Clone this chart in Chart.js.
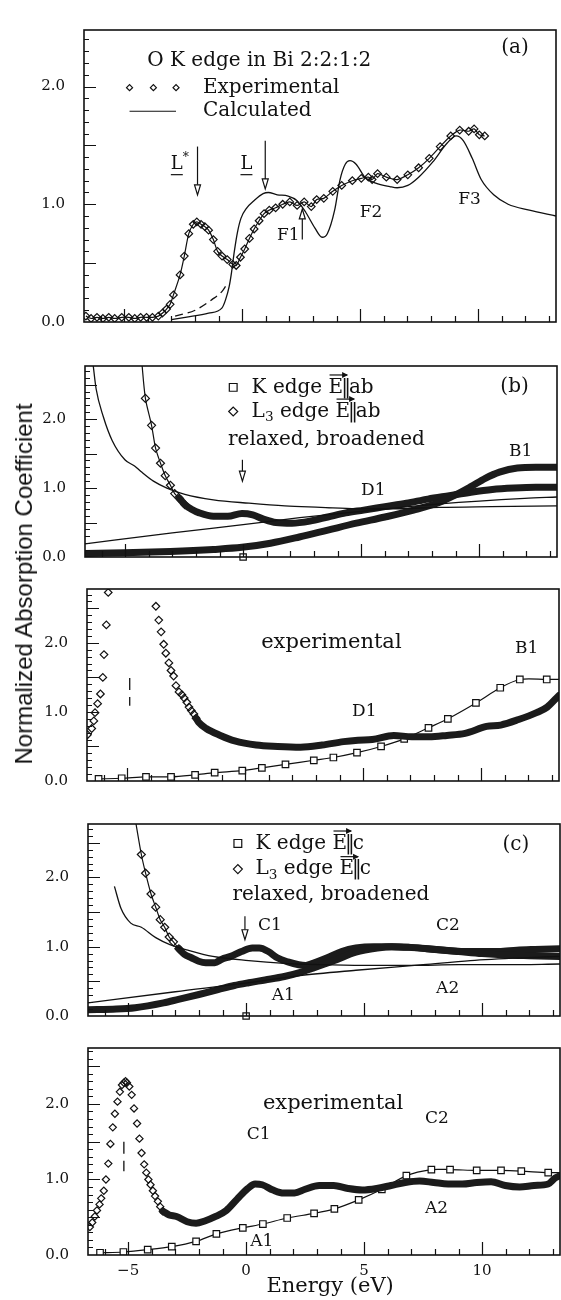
<!DOCTYPE html>
<html>
<head>
<meta charset="utf-8">
<title>O K edge in Bi 2:2:1:2</title>
<script src="https://cdn.jsdelivr.net/npm/chart.js@4.4.1/dist/chart.umd.min.js"></script>
<style>
  html, body { margin: 0; padding: 0; background: #fff; }
  body { position: relative; width: 561px; height: 1300px; overflow: hidden; }
  canvas { position: absolute; left: 0; }
  #ytitle { position: absolute; left: 24px; top: 584px; transform: translate(-50%, -50%) rotate(-90deg);
            font: 24px "Liberation Sans", Arial, sans-serif; color: #111; white-space: nowrap; }
</style>
</head>
<body>
<canvas id="pa"></canvas>
<canvas id="pb"></canvas>
<canvas id="pbx"></canvas>
<canvas id="pc"></canvas>
<canvas id="pcx"></canvas>
<div id="ytitle">Normalized Absorption Coefficient</div>
<script>
// energy axis (eV), same for every panel
const eMin = -6.7, eMax = 13.3;
const xTickValues = [-5, 0, 5, 10];
const xTickLabels = ['\u22125', '0', '5', '10'];
const yTickValues = [0, 1, 2];
const yTickLabels = ['0.0', '1.0', '2.0'];

// (a) O K edge, experiment and calculation
const aExpE = [-6.62,-6.4,-6.15,-5.9,-5.65,-5.4,-5.1,-4.8,-4.55,-4.3,-4.05,-3.8,-3.55,-3.38,-3.2,-3.05,-2.91,-2.63,-2.45,-2.26,
  -2.07,-1.92,-1.74,-1.58,-1.42,-1.22,-1.04,-0.85,-0.63,-0.40,-0.25,-0.07,0.11,0.31,0.51,0.72,0.93,1.15,1.42,1.72,
  2.02,2.33,2.63,2.93,3.16,3.46,3.84,4.22,4.67,5.05,5.35,5.51,5.74,6.11,6.57,7.02,7.48,7.93,8.39,8.84,9.22,9.60,9.83,10.05,10.28];
const aExpY = [0.05,0.03,0.04,0.03,0.04,0.03,0.04,0.04,0.03,0.04,0.04,0.04,0.05,0.075,0.11,0.15,0.23,0.40,0.56,0.75,
  0.83,0.85,0.83,0.81,0.78,0.70,0.60,0.56,0.53,0.49,0.48,0.55,0.62,0.71,0.79,0.86,0.92,0.95,0.97,1.00,
  1.02,0.99,1.02,0.98,1.04,1.05,1.11,1.16,1.20,1.22,1.23,1.21,1.26,1.23,1.21,1.25,1.31,1.39,1.49,1.58,1.63,1.62,1.64,1.59,1.58];
const aCalcE = [-3.0,-2.41,-1.42,-0.85,-0.7,-0.55,-0.45,-0.33,-0.2,-0.05,0.2,0.5,0.89,1.11,1.49,1.95,2.33,2.70,3.08,3.39,
  3.61,3.92,4.15,4.37,4.57,4.83,5.20,5.66,6.26,6.57,7.02,7.48,8.08,8.69,9.07,9.37,9.75,10.13,10.66,11.27,12.17,13.3];
const aCalcY = [0.02,0.04,0.075,0.12,0.19,0.30,0.42,0.60,0.76,0.88,0.97,1.03,1.09,1.10,1.08,1.07,1.03,0.93,0.80,0.72,
  0.75,0.95,1.21,1.34,1.37,1.34,1.23,1.18,1.15,1.14,1.16,1.23,1.36,1.52,1.58,1.54,1.39,1.21,1.08,1.00,0.95,0.90];
const aDashE = [-2.84,-1.99,-1.28,-0.85,-0.68];
const aDashY = [0.05,0.10,0.19,0.26,0.31];

// (b) relaxed, broadened, E || ab
const bKE = [-6.7,-5.04,-3.08,-1.26,-0.05,1.16,2.38,3.59,4.80,6.01,7.22,8.3,9.0,9.65,10.26,10.86,11.62,12.4,13.3];
const bKY = [0.05,0.06,0.08,0.11,0.14,0.20,0.29,0.39,0.49,0.58,0.68,0.79,0.90,1.02,1.14,1.23,1.29,1.30,1.30];
const bL3SteepE = [-4.3,-4.14,-3.88,-3.71,-3.50,-3.30,-3.08,-2.90,-2.70,-2.47];
const bL3SteepY = [2.85,2.30,1.91,1.58,1.36,1.18,1.04,0.92,0.85,0.76];
const bL3BandE = [-2.70,-2.47,-2.17,-1.86,-1.26,-0.65,-0.05,0.41,0.86,1.39,2.07,2.83,3.59,4.35,5.11,6.01,6.92,7.83,8.74,9.65,10.56,11.47,12.4,13.3];
const bL3BandY = [0.85,0.76,0.69,0.64,0.59,0.59,0.63,0.61,0.55,0.50,0.49,0.52,0.58,0.64,0.68,0.73,0.78,0.84,0.89,0.94,0.98,1.00,1.01,1.01];
const bDecayE = [-6.35,-6.23,-5.92,-5.55,-5.01,-4.6,-4.33,-3.8,-3.23,-2.47,-1.26,0.25,1.77,3.29,4.80,6.5,8.3,10.5,13.3];
const bDecayY = [2.77,2.44,2.03,1.69,1.41,1.32,1.24,1.10,1.00,0.91,0.83,0.78,0.74,0.72,0.70,0.70,0.72,0.73,0.74];
const bLinE = [-6.7,-3,0,2.4,4.96,8.34,11.93,13.3];
const bLinY = [0.19,0.35,0.47,0.57,0.66,0.77,0.85,0.87];
const bLoneE = [0];
const bLoneY = [0];

// (b) experimental
const bxL3E = [-6.68,-6.5,-6.41,-6.36,-6.25,-6.13,-6.03,-5.98,-5.88,-5.80,-3.78,-3.66,-3.56,-3.45,-3.36,-3.23,-3.14,-3.03,
  -2.93,-2.80,-2.68,-2.58,-2.47,-2.38,-2.28,-2.17,-2.08];
const bxL3Y = [0.67,0.76,0.87,0.99,1.12,1.26,1.50,1.83,2.26,2.73,2.53,2.33,2.16,1.98,1.85,1.71,1.60,1.52,
  1.38,1.29,1.25,1.20,1.14,1.07,1.02,0.97,0.91];
const bxL3BandE = [-2.08,-1.97,-1.65,-1.05,-0.44,0.47,1.38,2.35,3.26,4.17,4.78,5.39,6.30,7.06,7.80,8.55,9.32,10.23,10.83,11.59,12.35,12.80,13.3];
const bxL3BandY = [0.91,0.85,0.76,0.66,0.58,0.52,0.50,0.49,0.52,0.57,0.59,0.60,0.66,0.64,0.64,0.66,0.69,0.79,0.81,0.89,0.99,1.07,1.24];
const bxKE = [-6.21,-5.23,-4.20,-3.14,-2.12,-1.29,-0.12,0.71,1.71,2.91,3.74,4.74,5.76,6.74,7.77,8.59,9.78,10.81,11.64,12.78,13.4];
const bxKY = [0.03,0.04,0.06,0.06,0.09,0.12,0.15,0.19,0.24,0.30,0.34,0.41,0.50,0.61,0.77,0.90,1.13,1.35,1.47,1.47,1.47];
const bxMarkE = [-4.89,-4.89];
const bxMarkY = [1.49,1.09];

// (c) relaxed, broadened, E || c
const cL3SteepE = [-4.67,-4.44,-4.26,-4.03,-3.83,-3.64,-3.45,-3.26,-3.08,-2.85];
const cL3SteepY = [2.78,2.33,2.06,1.76,1.57,1.39,1.28,1.14,1.07,0.97];
const cL3BandE = [-2.85,-2.62,-2.32,-2.01,-1.71,-1.33,-1.03,-0.65,-0.20,0.26,0.56,0.94,1.32,1.77,2.23,2.53,2.83,3.44,4.05,4.65,
  5.41,6.17,6.92,7.68,8.44,9.20,9.95,10.71,11.47,12.23,13.3];
const cL3BandY = [0.97,0.89,0.84,0.79,0.77,0.77,0.82,0.86,0.93,0.98,0.98,0.93,0.84,0.78,0.74,0.73,0.76,0.84,0.93,0.98,
  1.00,1.00,0.99,0.97,0.95,0.93,0.93,0.93,0.95,0.96,0.97];
const cKE = [-6.7,-5.5,-4.7,-3.5,-2.87,-2.0,-1.19,-0.5,0.11,0.8,1.62,2.3,2.83,3.74,4.65,5.56,6.17,7.0,8.0,9.0,10.0,11.0,12.0,13.3];
const cKY = [0.09,0.10,0.12,0.19,0.24,0.31,0.38,0.44,0.48,0.52,0.57,0.63,0.69,0.80,0.92,0.98,1.00,0.99,0.96,0.93,0.90,0.88,0.87,0.86];
const cDecayE = [-5.58,-5.3,-4.89,-4.44,-3.83,-3.23,-2.47,-1.41,0.11,1.62,3.14,5.0,7.0,9.0,11.0,13.3];
const cDecayY = [1.87,1.55,1.34,1.28,1.13,1.03,0.95,0.86,0.80,0.76,0.74,0.73,0.73,0.74,0.74,0.75];
const cLinE = [-6.7,-3,0.14,2.2,4.65,7.5,9.5,11.7,13.3];
const cLinY = [0.19,0.35,0.48,0.58,0.66,0.74,0.80,0.84,0.86];
const cLoneE = [0];
const cLoneY = [0];

// (c) experimental
const cxL3E = [-6.62,-6.52,-6.41,-6.32,-6.21,-6.14,-6.03,-5.94,-5.84,-5.75,-5.65,-5.56,-5.45,-5.35,-5.26,-5.18,-5.11,-5.05,
  -4.95,-4.85,-4.75,-4.62,-4.52,-4.43,-4.32,-4.23,-4.14,-4.05,-3.95,-3.86,-3.74,-3.64,-3.53];
const cxL3Y = [0.37,0.43,0.51,0.59,0.67,0.75,0.85,1.00,1.21,1.47,1.69,1.87,2.03,2.16,2.25,2.28,2.30,2.28,
  2.23,2.12,1.94,1.74,1.54,1.35,1.20,1.09,1.00,0.93,0.85,0.78,0.71,0.64,0.58];
const cxL3BandE = [-3.53,-3.26,-2.95,-2.50,-2.12,-1.75,-1.29,-0.84,-0.38,0.07,0.38,0.68,1.14,1.59,2.05,2.50,3.10,3.71,4.32,4.92,
  5.53,6.14,6.74,7.35,7.95,8.56,9.16,9.77,10.38,10.98,11.59,12.20,12.80,13.10,13.3];
const cxL3BandY = [0.58,0.53,0.51,0.44,0.42,0.45,0.51,0.59,0.74,0.88,0.94,0.93,0.86,0.82,0.82,0.87,0.92,0.92,0.88,0.86,
  0.88,0.92,0.96,0.98,0.96,0.94,0.94,0.96,0.97,0.92,0.90,0.92,0.94,1.02,1.05];
const cxKE = [-6.19,-5.2,-4.17,-3.15,-2.12,-1.26,-0.14,0.71,1.74,2.88,3.74,4.77,5.75,6.79,7.85,8.64,9.77,10.80,11.66,12.80,13.4];
const cxKY = [0.03,0.04,0.07,0.11,0.18,0.28,0.36,0.41,0.49,0.55,0.61,0.73,0.87,1.05,1.13,1.13,1.12,1.12,1.11,1.09,1.09];
const cxMarkE = [-5.18,-5.18];
const cxMarkY = [1.50,1.11];

const SERIF = '"DejaVu Serif", "Liberation Serif", serif';
const INK = '#111';
const pts = (xs, ys) => xs.map((x, i) => ({x: x, y: ys[i]}));

// markers that sit past the frame are not drawn
function inside(ctx) {
  if (!ctx.raw) return true;
  return ctx.raw.x < eMax - 0.05 && ctx.raw.y < ctx.chart.scales.y.max - 0.03;
}

function thin(xs, ys, dash) {
  return {data: pts(xs, ys), showLine: true, borderColor: INK, borderWidth: 1.3, borderDash: dash || [],
    pointRadius: 0, tension: 0.4, cubicInterpolationMode: 'monotone', clip: 0};
}
// densely packed open markers print as a dark, speckled band
function band(xs, ys, w) {
  return [
    {data: pts(xs, ys), showLine: true, borderColor: '#1b1b1b', borderWidth: w || 7,
      borderJoinStyle: 'round', borderCapStyle: 'round',
      pointRadius: 0, tension: 0.4, cubicInterpolationMode: 'monotone', clip: 0},
    {data: pts(xs, ys), showLine: true, borderColor: 'rgba(255,255,255,0.75)', borderWidth: 1.5,
      borderDash: [1.5, 3.5], pointRadius: 0, tension: 0.4, cubicInterpolationMode: 'monotone', clip: 0}
  ];
}
function marks(xs, ys, style, r, line, fill) {
  return {data: pts(xs, ys), showLine: !!line, borderColor: INK, borderWidth: 1.2, tension: 0.3,
    pointStyle: style, pointRadius: c => inside(c) ? r : 0, pointBorderWidth: 1.2,
    pointBorderColor: INK, pointBackgroundColor: fill || 'rgba(255,255,255,0)', clip: 0};
}

function drawArrow(ctx, px, y1, tip) {
  const dir = Math.sign(tip - y1), hl = 10, hw = 3;
  ctx.beginPath();
  ctx.moveTo(px, y1); ctx.lineTo(px, tip - dir * hl);
  ctx.stroke();
  ctx.beginPath();
  ctx.moveTo(px - hw, tip - dir * hl); ctx.lineTo(px + hw, tip - dir * hl); ctx.lineTo(px, tip);
  ctx.closePath();
  ctx.fillStyle = '#fff'; ctx.fill(); ctx.stroke();
  ctx.fillStyle = INK;
}

function drawRuns(ctx, px, py, runs, size) {
  let cx = px;
  ctx.textAlign = 'left';
  runs.forEach(r => {
    if (r.bars) {
      ctx.font = size + 'px ' + SERIF;
      const w = ctx.measureText('|').width;
      ctx.fillText('|', cx - w * 0.3, py);
      ctx.fillText('|', cx + w * 0.15, py);
      cx += w * 0.85;
      return;
    }
    const fs = (r.sub || r.sup) ? size * 0.68 : size;
    ctx.font = fs + 'px ' + SERIF;
    const dy = r.sub ? size * 0.3 : r.sup ? -size * 0.36 : 0;
    ctx.fillText(r.s, cx, py + dy);
    const w = ctx.measureText(r.s).width;
    if (r.u) {
      ctx.beginPath(); ctx.moveTo(cx, py + size * 0.58); ctx.lineTo(cx + w, py + size * 0.58); ctx.stroke();
    }
    if (r.vec) {
      const ay = py - size * 0.62, x2 = cx + w + 4;
      ctx.beginPath(); ctx.moveTo(cx + 1, ay); ctx.lineTo(x2, ay); ctx.stroke();
      ctx.beginPath(); ctx.moveTo(x2 + 1, ay); ctx.lineTo(x2 - 5, ay - 3); ctx.lineTo(x2 - 5, ay + 3);
      ctx.closePath(); ctx.fill();
    }
    cx += w;
  });
}

function drawNote(ctx, x, y, n) {
  const px = x.getPixelForValue(n.x), py = y.getPixelForValue(n.y);
  ctx.fillStyle = INK; ctx.strokeStyle = INK; ctx.lineWidth = 1.2;
  ctx.textBaseline = 'middle'; ctx.textAlign = n.align || 'left';
  if (n.t === 'text') {
    ctx.font = n.size + 'px ' + SERIF;
    ctx.fillText(n.s, px, py);
  } else if (n.t === 'rich') {
    drawRuns(ctx, px, py, n.runs, n.size);
  } else if (n.t === 'arrow') {
    drawArrow(ctx, px, py, y.getPixelForValue(n.tip));
  } else if (n.t === 'seg') {
    ctx.beginPath(); ctx.moveTo(px, py); ctx.lineTo(x.getPixelForValue(n.x2), py); ctx.stroke();
  } else if (n.t === 'mark') {
    ctx.fillStyle = '#fff';
    Chart.helpers.drawPoint(ctx, {pointStyle: n.style, radius: n.r, borderWidth: 1.2, rotation: 0}, px, py);
  }
}

function decorate(chart, yMax, notes) {
  const {ctx, chartArea: a, scales: {x, y}} = chart;
  ctx.save();
  ctx.strokeStyle = INK; ctx.fillStyle = INK;
  ctx.lineWidth = 1.6;
  ctx.strokeRect(a.left, a.top, a.right - a.left, a.bottom - a.top);
  ctx.lineWidth = 1.2;
  ctx.beginPath();
  for (let e = Math.ceil(eMin); e <= Math.floor(eMax); e++) {
    const px = Math.round(x.getPixelForValue(e)) + 0.5;
    const len = e % 5 === 0 ? 13 : 6;
    ctx.moveTo(px, a.bottom); ctx.lineTo(px, a.bottom - len);
  }
  for (let k = 1; k / 10 < yMax - 0.02; k++) {
    const py = Math.round(y.getPixelForValue(k / 10)) + 0.5;
    const len = k % 5 === 0 ? 12 : 5;
    ctx.moveTo(a.left, py); ctx.lineTo(a.left + len, py);
  }
  ctx.stroke();
  notes.forEach(n => drawNote(ctx, x, y, n));
  ctx.restore();
}

function panel(id, box, yMax, datasets, notes, bottom) {
  const padT = 12, padB = bottom ? 46 : 12;
  const cv = document.getElementById(id);
  cv.width = 561;
  cv.height = box.b - box.t + padT + padB;
  cv.style.top = (box.t - padT) + 'px';
  return new Chart(cv, {
    type: 'scatter',
    data: {datasets: datasets.flat()},
    options: {
      responsive: false, animation: false, devicePixelRatio: 1, events: [],
      layout: {padding: {top: padT, right: 561 - box.r, left: 0, bottom: 0}},
      plugins: {legend: {display: false}, tooltip: {enabled: false}},
      scales: {
        x: {
          type: 'linear', min: eMin, max: eMax,
          grid: {display: false, drawTicks: false}, border: {display: false},
          afterBuildTicks: s => { s.ticks = xTickValues.map(v => ({value: v})); },
          afterFit: s => { s.height = padB; },
          ticks: {display: !!bottom, autoSkip: false, maxRotation: 0, padding: 7,
                  color: INK, font: {family: SERIF, size: 15},
                  callback: v => xTickLabels[xTickValues.indexOf(v)]}
        },
        y: {
          min: 0, max: yMax,
          grid: {display: false, drawTicks: false}, border: {display: false},
          afterBuildTicks: s => { s.ticks = yTickValues.map(v => ({value: v})); },
          afterFit: s => { s.width = box.l; },
          ticks: {autoSkip: false, padding: 19, color: INK, font: {family: SERIF, size: 15},
                  callback: v => yTickLabels[yTickValues.indexOf(v)]}
        }
      }
    },
    plugins: [{id: 'frame', afterDatasetsDraw: c => decorate(c, yMax, notes)}]
  });
}

const vecRuns = (pre, post) => pre.concat([{s: 'E', vec: true}, {bars: true}, {s: post}]);

const aNotes = [
  {t: 'text', x: -4.02, y: 2.22, s: 'O K edge in Bi 2:2:1:2', size: 20},
  {t: 'mark', x: -4.77, y: 1.99, style: 'rectRot', r: 3},
  {t: 'mark', x: -3.76, y: 1.99, style: 'rectRot', r: 3},
  {t: 'mark', x: -2.80, y: 1.99, style: 'rectRot', r: 3},
  {t: 'text', x: -1.66, y: 1.99, s: 'Experimental', size: 20},
  {t: 'seg', x: -4.77, x2: -2.80, y: 1.79},
  {t: 'text', x: -1.66, y: 1.79, s: 'Calculated', size: 20},
  {t: 'text', x: 10.98, y: 2.33, s: '(a)', size: 20},
  {t: 'rich', x: -3.02, y: 1.34, size: 18, runs: [{s: 'L', u: true}, {s: '*', sup: true}]},
  {t: 'arrow', x: -1.89, y: 1.49, tip: 1.08},
  {t: 'rich', x: -0.07, y: 1.34, size: 18, runs: [{s: 'L', u: true}]},
  {t: 'arrow', x: 0.98, y: 1.54, tip: 1.13},
  {t: 'text', x: 1.48, y: 0.73, s: 'F1', size: 17},
  {t: 'arrow', x: 2.55, y: 0.70, tip: 0.96},
  {t: 'text', x: 4.98, y: 0.93, s: 'F2', size: 17},
  {t: 'text', x: 9.16, y: 1.04, s: 'F3', size: 17}
];
const bNotes = [
  {t: 'mark', x: -0.42, y: 2.46, style: 'rect', r: 5.5},
  {t: 'rich', x: 0.36, y: 2.46, size: 20, runs: vecRuns([{s: 'K edge '}], 'ab')},
  {t: 'mark', x: -0.42, y: 2.11, style: 'rectRot', r: 4.5},
  {t: 'rich', x: 0.36, y: 2.11, size: 20, runs: vecRuns([{s: 'L'}, {s: '3', sub: true}, {s: ' edge '}], 'ab')},
  {t: 'text', x: -0.64, y: 1.70, s: 'relaxed, broadened', size: 20},
  {t: 'text', x: 10.9, y: 2.47, s: '(b)', size: 20},
  {t: 'text', x: 11.27, y: 1.53, s: 'B1', size: 17},
  {t: 'text', x: 5.0, y: 0.97, s: 'D1', size: 17},
  {t: 'arrow', x: -0.03, y: 1.41, tip: 1.10}
];
const bxNotes = [
  {t: 'text', x: 0.68, y: 2.0, s: 'experimental', size: 21},
  {t: 'text', x: 11.44, y: 1.92, s: 'B1', size: 17},
  {t: 'text', x: 4.53, y: 1.0, s: 'D1', size: 17}
];
const cNotes = [
  {t: 'mark', x: -0.35, y: 2.49, style: 'rect', r: 5.5},
  {t: 'rich', x: 0.4, y: 2.49, size: 20, runs: vecRuns([{s: 'K edge '}], 'c')},
  {t: 'mark', x: -0.35, y: 2.12, style: 'rectRot', r: 4.5},
  {t: 'rich', x: 0.4, y: 2.12, size: 20, runs: vecRuns([{s: 'L'}, {s: '3', sub: true}, {s: ' edge '}], 'c')},
  {t: 'text', x: -0.58, y: 1.75, s: 'relaxed, broadened', size: 20},
  {t: 'text', x: 10.86, y: 2.47, s: '(c)', size: 20},
  {t: 'text', x: 0.5, y: 1.30, s: 'C1', size: 17},
  {t: 'arrow', x: -0.05, y: 1.44, tip: 1.10},
  {t: 'text', x: 8.05, y: 1.30, s: 'C2', size: 17},
  {t: 'text', x: 1.09, y: 0.29, s: 'A1', size: 17},
  {t: 'text', x: 8.05, y: 0.39, s: 'A2', size: 17}
];
const cxNotes = [
  {t: 'text', x: 0.71, y: 2.01, s: 'experimental', size: 21},
  {t: 'text', x: 0.03, y: 1.59, s: 'C1', size: 17},
  {t: 'text', x: 7.58, y: 1.80, s: 'C2', size: 17},
  {t: 'text', x: 0.17, y: 0.18, s: 'A1', size: 17},
  {t: 'text', x: 7.58, y: 0.62, s: 'A2', size: 17},
  {t: 'text', x: 3.56, y: -0.42, s: 'Energy (eV)', size: 21, align: 'center'}
];

panel('pa', {l: 84, t: 14, r: 556, b: 338}, 2.48, [
  thin(aCalcE, aCalcY),
  thin(aDashE, aDashY, [8, 5]),
  marks(aExpE, aExpY, 'rectRot', 3.8, true)
], aNotes);

panel('pb', {l: 85, t: 350, r: 557, b: 573}, 2.77, [
  thin(bDecayE, bDecayY),
  thin(bLinE, bLinY),
  band(bKE, bKY, 7),
  band(bL3BandE, bL3BandY, 7),
  marks(bL3SteepE, bL3SteepY, 'rectRot', 4, true),
  Object.assign(marks(bLoneE, bLoneY, 'rect', 4.5, false, '#fff'), {clip: false})
], bNotes);

panel('pbx', {l: 87, t: 573, r: 559, b: 797}, 2.78, [
  band(bxL3BandE, bxL3BandY, 7),
  marks(bxL3E, bxL3Y, 'rectRot', 3.8, false),
  marks(bxKE, bxKY, 'rect', 4.6, true, '#fff'),
  thin(bxMarkE, bxMarkY, [12, 7])
], bxNotes);

panel('pc', {l: 88, t: 808, r: 560, b: 1032}, 2.77, [
  thin(cDecayE, cDecayY),
  thin(cLinE, cLinY),
  band(cKE, cKY, 7),
  band(cL3BandE, cL3BandY, 7),
  marks(cL3SteepE, cL3SteepY, 'rectRot', 4, true),
  Object.assign(marks(cLoneE, cLoneY, 'rect', 4.5, false, '#fff'), {clip: false})
], cNotes);

panel('pcx', {l: 88, t: 1032, r: 560, b: 1255}, 2.74, [
  band(cxL3BandE, cxL3BandY, 7),
  marks(cxL3E, cxL3Y, 'rectRot', 3.6, false),
  marks(cxKE, cxKY, 'rect', 4.6, true, '#fff'),
  thin(cxMarkE, cxMarkY, [12, 7])
], cxNotes, true);
</script>
</body>
</html>
